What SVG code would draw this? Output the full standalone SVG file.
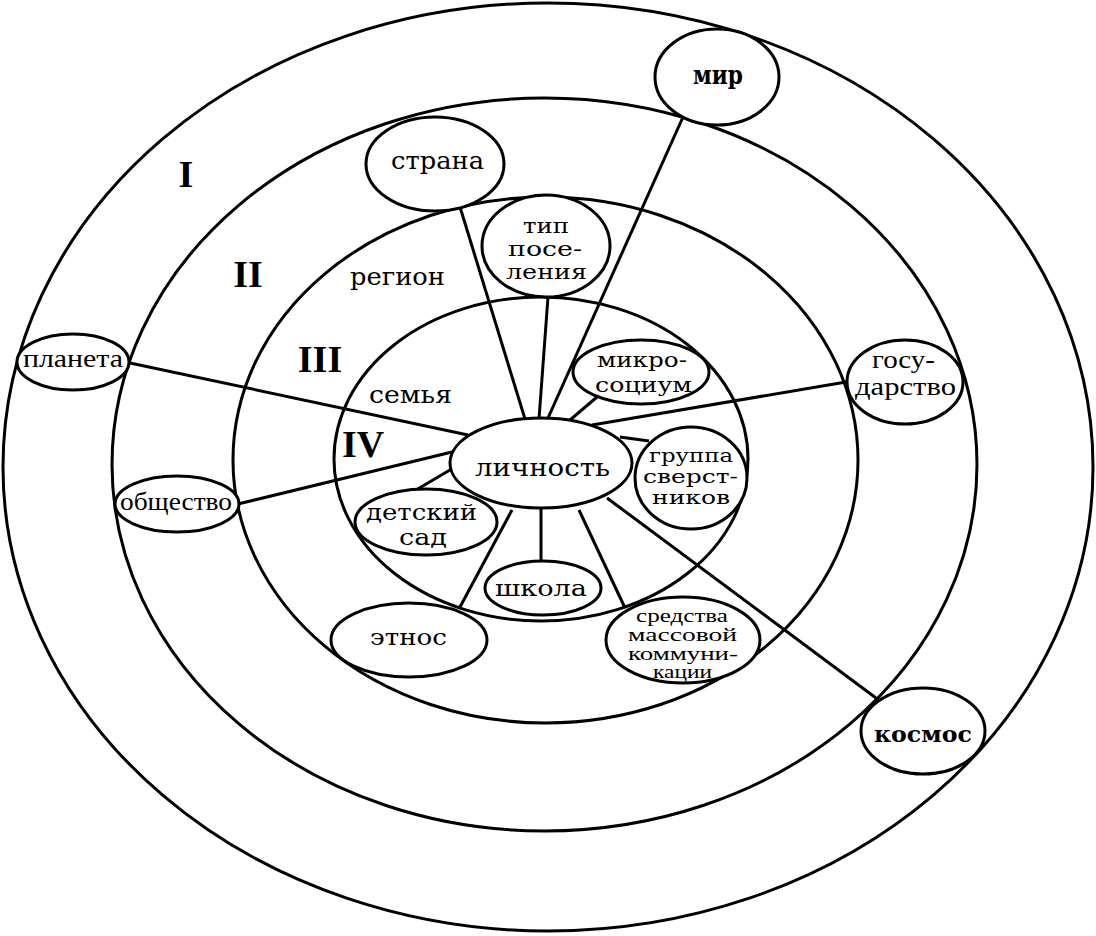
<svg xmlns="http://www.w3.org/2000/svg" width="1096" height="936" viewBox="0 0 1096 936">
<style>
.ring{fill:none;stroke:#000;stroke-width:3}
.node{fill:#fff;stroke:#000;stroke-width:3}
.con{stroke:#000;stroke-width:3;fill:none}
.t{font-family:"DejaVu Serif","Liberation Serif",serif;fill:#000}
.tb{font-family:"DejaVu Serif","Liberation Serif",serif;font-weight:bold;fill:#000}
.r{font-family:"Liberation Serif","Times New Roman",serif;fill:#000}
.num{font-family:"Liberation Serif","Times New Roman",serif;font-weight:bold;font-size:38px;fill:#000;text-anchor:middle}
</style>
<rect width="1096" height="936" fill="#fff"/>
<g id="rings">
<ellipse class="ring" cx="548" cy="467" rx="545" ry="464"/>
<ellipse class="ring" cx="544.5" cy="464.5" rx="432.5" ry="366.5"/>
<ellipse class="ring" cx="545.5" cy="460" rx="312.5" ry="263"/>
<ellipse class="ring" cx="541" cy="459" rx="207" ry="162"/>
</g>
<g id="zone-labels">
<text class="num" x="186" y="187">I</text>
<text class="num" x="248" y="287">II</text>
<text class="num" x="320" y="372">III</text>
<text class="num" x="363" y="457">IV</text>
<text class="t" x="350" y="285" font-size="24" textLength="95" lengthAdjust="spacingAndGlyphs">регион</text>
<text class="t" x="369" y="403" font-size="24" textLength="83" lengthAdjust="spacingAndGlyphs">семья</text>
</g>
<g id="connectors">
<line class="con" x1="460" y1="207" x2="525" y2="419"/>
<line class="con" x1="548" y1="297" x2="539" y2="419"/>
<line class="con" x1="683" y1="117" x2="548" y2="418"/>
<line class="con" x1="597" y1="397" x2="570" y2="420"/>
<line class="con" x1="846" y1="382" x2="592" y2="425"/>
<line class="con" x1="620" y1="437" x2="649" y2="441"/>
<line class="con" x1="130" y1="363" x2="468" y2="435"/>
<line class="con" x1="238" y1="504" x2="452" y2="452"/>
<line class="con" x1="416" y1="490" x2="455" y2="467"/>
<line class="con" x1="460" y1="607" x2="512" y2="510"/>
<line class="con" x1="541" y1="506" x2="541" y2="562"/>
<line class="con" x1="579" y1="510" x2="625" y2="608"/>
<line class="con" x1="607" y1="498" x2="876" y2="698"/>
</g>
<g id="n-lichnost">
<ellipse class="node" cx="541" cy="463" rx="91" ry="45"/>
<text class="t" x="475" y="476" font-size="25" textLength="135" lengthAdjust="spacingAndGlyphs">личность</text>
</g>
<g id="n-strana">
<ellipse class="node" cx="435" cy="164" rx="69" ry="47"/>
<text class="t" x="391" y="169" font-size="25" textLength="93" lengthAdjust="spacingAndGlyphs">страна</text>
</g>
<g id="n-tip">
<ellipse class="node" cx="546" cy="246" rx="64" ry="51"/>
<text class="t" x="523" y="233" font-size="21" textLength="46" lengthAdjust="spacingAndGlyphs">тип</text>
<text class="t" x="508" y="256" font-size="21" textLength="74" lengthAdjust="spacingAndGlyphs">посе-</text>
<text class="t" x="506" y="279" font-size="21" textLength="81" lengthAdjust="spacingAndGlyphs">ления</text>
</g>
<g id="n-mir">
<ellipse class="node" cx="717" cy="77" rx="62" ry="48"/>
<text class="tb" x="693" y="84" font-size="26" textLength="50" lengthAdjust="spacingAndGlyphs">мир</text>
</g>
<g id="n-mikrosocium">
<ellipse class="node" cx="641" cy="372" rx="68" ry="32"/>
<text class="t" x="597" y="367" font-size="21" textLength="90" lengthAdjust="spacingAndGlyphs">микро-</text>
<text class="t" x="595" y="392" font-size="21" textLength="97" lengthAdjust="spacingAndGlyphs">социум</text>
</g>
<g id="n-gosudarstvo">
<ellipse class="node" cx="905" cy="382" rx="58" ry="42"/>
<text class="r" x="872" y="368" font-size="25" textLength="63" lengthAdjust="spacingAndGlyphs">госу-</text>
<text class="r" x="855" y="395" font-size="25" textLength="101" lengthAdjust="spacingAndGlyphs">дарство</text>
</g>
<g id="n-gruppa">
<ellipse class="node" cx="691" cy="478" rx="56" ry="51"/>
<text class="t" x="649" y="462" font-size="19" textLength="84" lengthAdjust="spacingAndGlyphs">группа</text>
<text class="t" x="643" y="483" font-size="19" textLength="95" lengthAdjust="spacingAndGlyphs">сверст-</text>
<text class="t" x="652" y="504" font-size="19" textLength="78" lengthAdjust="spacingAndGlyphs">ников</text>
</g>
<g id="n-planeta">
<ellipse class="node" cx="73" cy="362" rx="56" ry="28"/>
<text class="r" x="23" y="367" font-size="26" textLength="100" lengthAdjust="spacingAndGlyphs">планета</text>
</g>
<g id="n-obshchestvo">
<ellipse class="node" cx="177" cy="504" rx="62" ry="28"/>
<text class="r" x="120" y="510" font-size="26" textLength="112" lengthAdjust="spacingAndGlyphs">общество</text>
</g>
<g id="n-detsad">
<ellipse class="node" cx="426" cy="522" rx="71" ry="33"/>
<text class="t" x="366" y="520" font-size="22" textLength="111" lengthAdjust="spacingAndGlyphs">детский</text>
<text class="t" x="399" y="545" font-size="22" textLength="48" lengthAdjust="spacingAndGlyphs">сад</text>
</g>
<g id="n-etnos">
<ellipse class="node" cx="409" cy="640" rx="78" ry="37"/>
<text class="t" x="370" y="645" font-size="23" textLength="77" lengthAdjust="spacingAndGlyphs">этнос</text>
</g>
<g id="n-shkola">
<ellipse class="node" cx="543" cy="588" rx="58" ry="27"/>
<text class="t" x="495" y="596" font-size="22" textLength="92" lengthAdjust="spacingAndGlyphs">школа</text>
</g>
<g id="n-smk">
<ellipse class="node" cx="683" cy="640" rx="77" ry="43"/>
<text class="r" x="636" y="622" font-size="18" textLength="92" lengthAdjust="spacingAndGlyphs">средства</text>
<text class="r" x="628" y="641" font-size="18" textLength="109" lengthAdjust="spacingAndGlyphs">массовой</text>
<text class="r" x="628" y="660" font-size="18" textLength="110" lengthAdjust="spacingAndGlyphs">коммуни-</text>
<text class="r" x="653" y="678" font-size="18" textLength="59" lengthAdjust="spacingAndGlyphs">кации</text>
</g>
<g id="n-kosmos">
<ellipse class="node" cx="923" cy="731" rx="62" ry="43"/>
<text class="tb" x="874" y="742" font-size="22" textLength="98" lengthAdjust="spacingAndGlyphs">космос</text>
</g>
</svg>
